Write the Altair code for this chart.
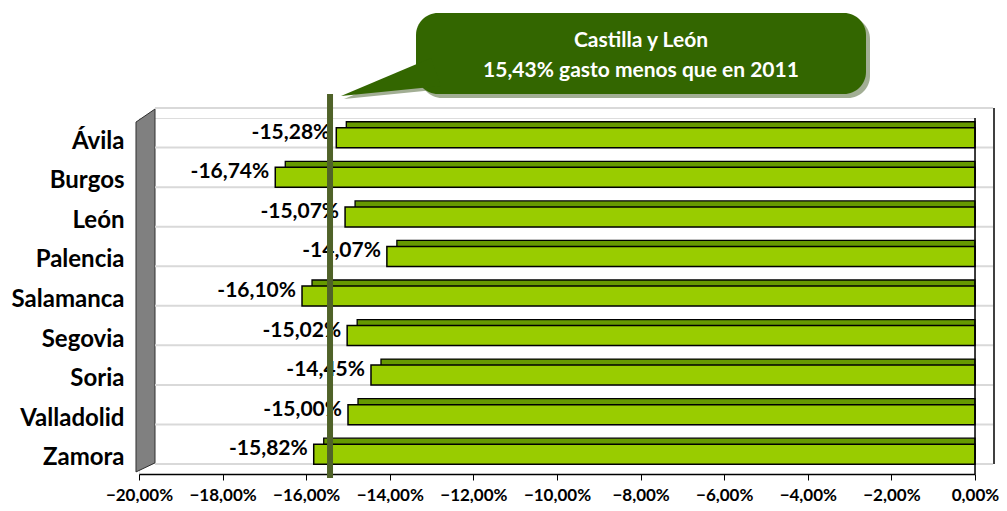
import altair as alt
import pandas as pd

provinces = ["Ávila", "Burgos", "León", "Palencia", "Salamanca", "Segovia", "Soria", "Valladolid", "Zamora"]
values = [-15.28, -16.74, -15.07, -14.07, -16.10, -15.02, -14.45, -15.00, -15.82]
labels = ["-15,28%", "-16,74%", "-15,07%", "-14,07%", "-16,10%", "-15,02%", "-14,45%", "-15,00%", "-15,82%"]
region_value = [-15.43]
callout_lines = ["Castilla y León", "15,43% gasto menos que en 2011"]
x_ticks = [-20, -18, -16, -14, -12, -10, -8, -6, -4, -2, 0]

FONT = "Lato"
W, H = 836, 356

df = pd.DataFrame({"prov": provinces, "value": values, "zero": [0] * len(values), "label": labels})
dummy = pd.DataFrame({"a": [0]})
ref = pd.DataFrame({"value": region_value})

xaxis = alt.Axis(values=x_ticks, labelExpr="format(datum.value, '.0f') + ',00%'",
                 grid=False, domainColor="black", domainWidth=1.5, tickColor="black", tickSize=6,
                 labelFont=FONT, labelFontWeight="bold", labelFontSize=17, labelColor="black",
                 labelBaseline="middle", labelPadding=15, labelFlush=False, labelOverlap=False, title=None)
yaxis = alt.Axis(title=None, ticks=False, domain=False, labelFont=FONT, labelFontWeight="bold",
                 labelFontSize=24, labelColor="black", labelPadding=15, labelOffset=4)

xs = alt.Scale(domain=[-20, 0], nice=False, zero=False)
ys = alt.Scale(domain=provinces, paddingInner=0.494, paddingOuter=0.247)

X = alt.X("value:Q", scale=xs, axis=xaxis)
X2 = alt.X2("zero:Q")
Y = alt.Y("prov:N", scale=ys, axis=yaxis, sort=provinces)

# left 3D wall
wall = alt.Chart(dummy).mark_point(
    shape="M-0.0525,-0.925L0.0525,-0.997L0.0525,0.958L-0.0525,1.008Z",
    filled=True, fill="#808080", stroke="#303030", strokeWidth=1, opacity=1, size=131044
).encode(x=alt.value(6.5), y=alt.value(171.5))

grid1 = alt.Chart(df).mark_rule(yOffset=-29.75, color="#D9D9D9", strokeWidth=2).encode(
    y=Y, x=alt.value(16), x2=alt.value(W + 18))
grid2 = alt.Chart(df[df.prov == "Zamora"]).mark_rule(yOffset=9.75, color="#D9D9D9", strokeWidth=2).encode(
    y=Y, x=alt.value(16), x2=alt.value(W + 18))
backline = alt.Chart(dummy).mark_rule(color="black", strokeWidth=1.5).encode(
    x=alt.value(W + 19), y=alt.value(-10), y2=alt.value(346))
zeroline = alt.Chart(dummy).mark_rule(color="black", strokeWidth=1.5).encode(
    x=alt.value(W), y=alt.value(0), y2=alt.value(H))

bar_back = alt.Chart(df).mark_bar(xOffset=10, yOffset=-6, fill="#669900", stroke="black", strokeWidth=1.3).encode(
    x=X, x2=X2, y=Y)
bar_front = alt.Chart(df).mark_bar(fill="#99CC00", stroke="black", strokeWidth=1.5).encode(
    x=X, x2=X2, y=Y)
bar_text = alt.Chart(df).mark_text(align="right", baseline="middle", dx=-6, dy=-5, font=FONT,
                                   fontWeight="bold", fontSize=21, color="black").encode(
    x=X, y=Y, text="label:N")

vline = alt.Chart(ref).mark_rule(color="#4F6228", strokeWidth=6).encode(
    x=X, y=alt.value(-24), y2=alt.value(360))

# callout
shadow = alt.Chart(dummy).mark_rect(cornerRadius=22, fill="#A2AE94").encode(
    x=alt.value(281), x2=alt.value(731), y=alt.value(-101), y2=alt.value(-20))
tail_shadow = alt.Chart(dummy).mark_point(
    shape="M-1,0.36L0.8,-0.4L1,0.16Z", filled=True, fill="#A2AE94", opacity=1, strokeWidth=0, size=10000
).encode(x=alt.value(255), y=alt.value(-37))
box = alt.Chart(dummy).mark_rect(cornerRadius=22, fill="#336600").encode(
    x=alt.value(277), x2=alt.value(727), y=alt.value(-105), y2=alt.value(-24))
tail = alt.Chart(dummy).mark_point(
    shape="M-1,0.36L0.8,-0.4L1,0.16Z", filled=True, fill="#336600", opacity=1, strokeWidth=0, size=10000
).encode(x=alt.value(252), y=alt.value(-40))
ctext1 = alt.Chart(dummy).mark_text(align="center", baseline="middle", font=FONT, fontWeight="bold",
                                    fontSize=21, color="white").encode(
    x=alt.value(502), y=alt.value(-77), text=alt.value(callout_lines[0]))
ctext2 = alt.Chart(dummy).mark_text(align="center", baseline="middle", font=FONT, fontWeight="bold",
                                    fontSize=21, color="white").encode(
    x=alt.value(502), y=alt.value(-47), text=alt.value(callout_lines[1]))

chart = alt.layer(
    wall, grid1, grid2, backline, bar_back, bar_front, zeroline, bar_text, vline,
    shadow, tail_shadow, box, tail, ctext1, ctext2
).properties(
    width=W, height=H,
    autosize=alt.AutoSizeParams(type="none"),
    padding={"left": 131, "top": 110, "right": 24, "bottom": 29},
).configure_view(stroke=None).configure(background="white")

chart.save("out.html", embed_options={"renderer": "svg", "actions": False})
